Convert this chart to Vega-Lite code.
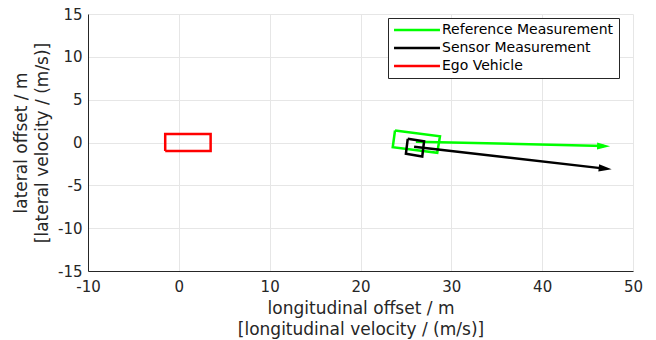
{
  "$schema": "https://vega.github.io/schema/vega-lite/v6.json",
  "width": 545,
  "height": 257,
  "autosize": {"type": "none"},
  "padding": {"left": 88, "top": 14, "right": 23, "bottom": 69},
  "config": {
    "font": "DejaVu Sans",
    "view": {"stroke": null},
    "axis": {
      "labelFont": "DejaVu Sans",
      "labelFontSize": 15,
      "labelColor": "#262626",
      "labelFlush": false,
      "labelExpr": "'' + datum.value",
      "titleFont": "DejaVu Sans",
      "titleFontSize": 17,
      "titleLineHeight": 21,
      "titleFontWeight": "normal",
      "titleColor": "#262626",
      "gridColor": "#e6e6e6",
      "gridWidth": 1,
      "domainColor": "#262626",
      "domainWidth": 1,
      "ticks": false
    }
  },
  "datasets": {
    "shapes": [
      {"series": "Ego Vehicle", "part": "ego", "i": 0, "x": -1.5, "y": -1},
      {"series": "Ego Vehicle", "part": "ego", "i": 1, "x": 3.5, "y": -1},
      {"series": "Ego Vehicle", "part": "ego", "i": 2, "x": 3.5, "y": 1},
      {"series": "Ego Vehicle", "part": "ego", "i": 3, "x": -1.5, "y": 1},
      {"series": "Ego Vehicle", "part": "ego", "i": 4, "x": -1.5, "y": -1},
      {"series": "Reference Measurement", "part": "refbox", "i": 0, "x": 23.8, "y": 1.4},
      {"series": "Reference Measurement", "part": "refbox", "i": 1, "x": 28.75, "y": 0.73},
      {"series": "Reference Measurement", "part": "refbox", "i": 2, "x": 28.45, "y": -1.2},
      {"series": "Reference Measurement", "part": "refbox", "i": 3, "x": 23.55, "y": -0.55},
      {"series": "Reference Measurement", "part": "refbox", "i": 4, "x": 23.8, "y": 1.4},
      {"series": "Reference Measurement", "part": "refvel", "i": 0, "x": 26.1, "y": 0.1},
      {"series": "Reference Measurement", "part": "refvel", "i": 1, "x": 46.8, "y": -0.42},
      {"series": "Sensor Measurement", "part": "senbox", "i": 0, "x": 25.2, "y": 0.43},
      {"series": "Sensor Measurement", "part": "senbox", "i": 1, "x": 27.0, "y": 0.15},
      {"series": "Sensor Measurement", "part": "senbox", "i": 2, "x": 26.8, "y": -1.63},
      {"series": "Sensor Measurement", "part": "senbox", "i": 3, "x": 25.0, "y": -1.31},
      {"series": "Sensor Measurement", "part": "senbox", "i": 4, "x": 25.2, "y": 0.43},
      {"series": "Sensor Measurement", "part": "senvel", "i": 0, "x": 25.9, "y": -0.5},
      {"series": "Sensor Measurement", "part": "senvel", "i": 1, "x": 46.9, "y": -3.05}
    ],
    "heads": [
      {"series": "Reference Measurement", "x": 46.76, "y": -0.42},
      {"series": "Sensor Measurement", "x": 46.94, "y": -3.05}
    ]
  },
  "layer": [
    {
      "data": {"name": "shapes"},
      "mark": {"type": "line", "clip": false, "strokeCap": "butt"},
      "encoding": {
        "x": {
          "field": "x",
          "type": "quantitative",
          "scale": {"domain": [-10, 50], "nice": false, "zero": false},
          "axis": {
            "values": [-10, 0, 10, 20, 30, 40, 50],
            "title": ["longitudinal offset / m", "[longitudinal velocity / (m/s)]"],
            "labelPadding": 8,
            "titlePadding": 6
          }
        },
        "y": {
          "field": "y",
          "type": "quantitative",
          "scale": {"domain": [-15, 15], "nice": false, "zero": false},
          "axis": {
            "values": [-15, -10, -5, 0, 5, 10, 15],
            "title": ["lateral offset / m", "[lateral velocity / (m/s)]"],
            "labelPadding": 6,
            "titlePadding": 6
          }
        },
        "color": {
          "field": "series",
          "type": "ordinal",
          "scale": {
            "domain": ["Reference Measurement", "Sensor Measurement", "Ego Vehicle"],
            "range": ["#00ff00", "#000000", "#ff0000"]
          },
          "legend": {
            "title": null,
            "orient": "none",
            "legendX": 300,
            "legendY": 4,
            "padding": 5,
            "strokeColor": "#262626",
            "fillColor": "#ffffff",
            "labelFont": "DejaVu Sans",
            "labelFontSize": 14,
            "labelColor": "#000000",
            "labelLimit": 0,
            "symbolType": "M-4,0L4,0",
            "symbolSize": 132,
            "symbolOffset": 17,
            "labelOffset": 18,
            "rowPadding": 4
          }
        },
        "strokeWidth": {
          "field": "series",
          "type": "ordinal",
          "scale": {
            "domain": ["Reference Measurement", "Sensor Measurement", "Ego Vehicle"],
            "range": [2.5, 2.5, 1.2]
          },
          "legend": {"title": null}
        },
        "detail": {"field": "part"},
        "order": {"field": "i", "type": "quantitative"}
      }
    },
    {
      "data": {"name": "heads"},
      "transform": [{"filter": "datum.series == 'Reference Measurement'"}],
      "mark": {"type": "point", "shape": "M1,0L-1,-0.55L-1,0.55Z", "size": 169, "filled": true, "opacity": 1, "color": "#00ff00", "angle": 1.3, "clip": false},
      "encoding": {
        "x": {"field": "x", "type": "quantitative"},
        "y": {"field": "y", "type": "quantitative"}
      }
    },
    {
      "data": {"name": "heads"},
      "transform": [{"filter": "datum.series == 'Sensor Measurement'"}],
      "mark": {"type": "point", "shape": "M1,0L-1,-0.55L-1,0.55Z", "size": 169, "filled": true, "opacity": 1, "color": "#000000", "angle": 6.5, "clip": false},
      "encoding": {
        "x": {"field": "x", "type": "quantitative"},
        "y": {"field": "y", "type": "quantitative"}
      }
    }
  ]
}
